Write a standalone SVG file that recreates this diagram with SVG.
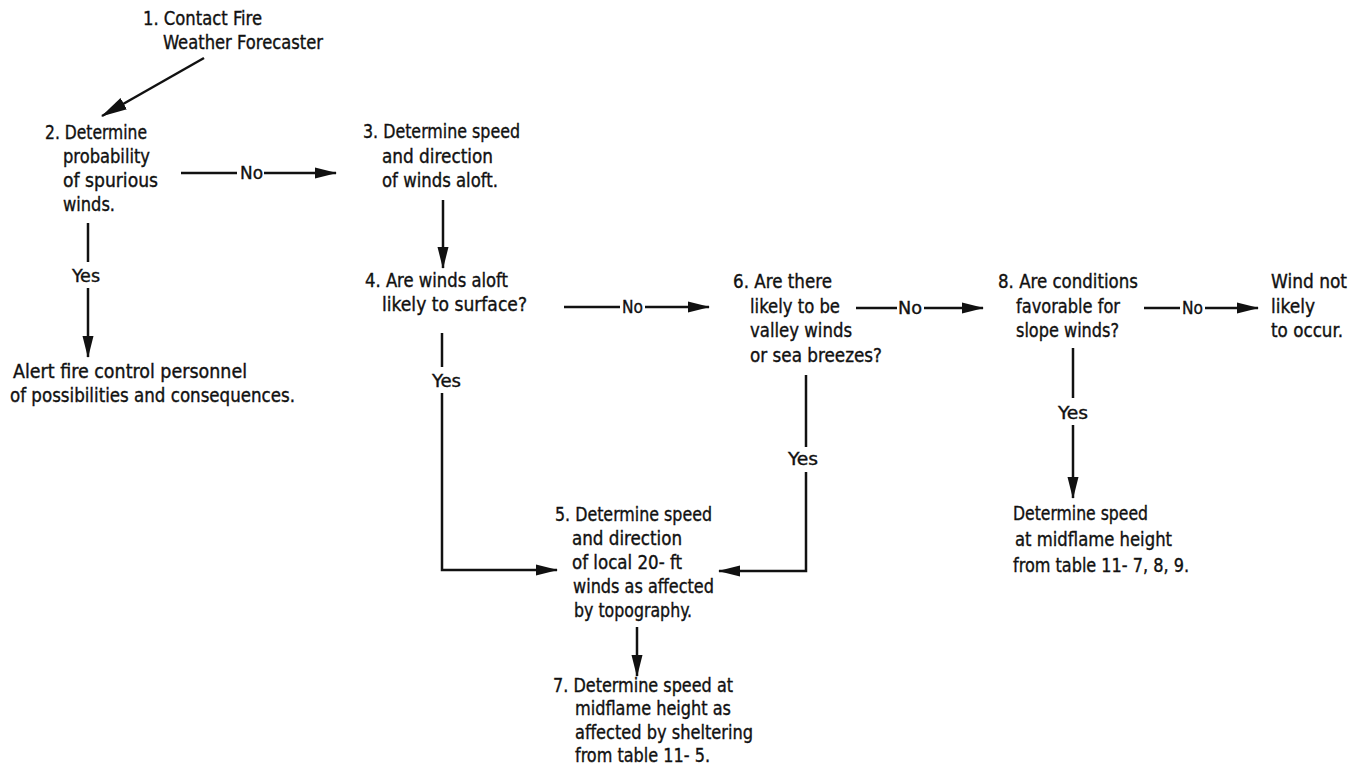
<svg xmlns="http://www.w3.org/2000/svg" width="1361" height="766" viewBox="0 0 1361 766">
<style>
text{font-family:"DejaVu Sans Condensed","DejaVu Sans","Liberation Sans",sans-serif;font-size:19px;fill:#111;stroke:#111;stroke-width:0.35px;}
.lbl{font-size:18px;}
.c{stroke:#111;stroke-width:2.5;fill:none;}
.a{marker-end:url(#ah);}
.big{marker-end:url(#ahb);}
</style>
<defs>
<marker id="ah" markerUnits="userSpaceOnUse" markerWidth="22" markerHeight="12" refX="21" refY="6" orient="auto">
<path d="M0,0.5 L22,6 L0,11.5 z" fill="#111"/>
</marker>
<marker id="ahb" markerUnits="userSpaceOnUse" markerWidth="26" markerHeight="14" refX="25" refY="7" orient="auto">
<path d="M0,0.5 L26,7 L0,13.5 z" fill="#111"/>
</marker>
</defs>
<rect width="1361" height="766" fill="#fff"/>
<g id="connectors">
<line class="c big" x1="204" y1="58" x2="102" y2="116"/>
<line class="c" x1="181" y1="173" x2="237" y2="173"/>
<line class="c a" x1="264" y1="173" x2="336" y2="173"/>
<text class="lbl" x="240" y="179" textLength="23" lengthAdjust="spacingAndGlyphs">No</text>
<line class="c" x1="88" y1="223" x2="88" y2="262"/>
<text class="lbl" x="72" y="282" textLength="28" lengthAdjust="spacingAndGlyphs">Yes</text>
<line class="c a" x1="88" y1="288" x2="88" y2="357"/>
<line class="c a" x1="443" y1="200" x2="443" y2="268"/>
<line class="c" x1="564" y1="307" x2="620" y2="307"/>
<text class="lbl" x="622" y="313" textLength="21" lengthAdjust="spacingAndGlyphs">No</text>
<line class="c a" x1="645" y1="307" x2="709" y2="307"/>
<line class="c" x1="442" y1="333" x2="442" y2="367"/>
<text class="lbl" x="432" y="387" textLength="29" lengthAdjust="spacingAndGlyphs">Yes</text>
<path class="c a" d="M442,393 V570 H557"/>
<line class="c" x1="806" y1="375" x2="806" y2="447"/>
<text class="lbl" x="788" y="465" textLength="30" lengthAdjust="spacingAndGlyphs">Yes</text>
<path class="c a" d="M806,472 V571 H719"/>
<line class="c" x1="856" y1="308" x2="897" y2="308"/>
<text class="lbl" x="898" y="314" textLength="24" lengthAdjust="spacingAndGlyphs">No</text>
<line class="c a" x1="924" y1="308" x2="983" y2="308"/>
<line class="c" x1="1144" y1="308" x2="1180" y2="308"/>
<text class="lbl" x="1182" y="314" textLength="21" lengthAdjust="spacingAndGlyphs">No</text>
<line class="c a" x1="1205" y1="308" x2="1258" y2="308"/>
<line class="c" x1="1073" y1="348" x2="1073" y2="398"/>
<text class="lbl" x="1058" y="419" textLength="30" lengthAdjust="spacingAndGlyphs">Yes</text>
<line class="c a" x1="1073" y1="425" x2="1073" y2="498"/>
<line class="c a" x1="637" y1="627" x2="637" y2="676"/>
</g>
<g id="n1">
<text x="143" y="25" textLength="119" lengthAdjust="spacingAndGlyphs">1. Contact Fire</text>
<text x="163" y="49" textLength="160" lengthAdjust="spacingAndGlyphs">Weather Forecaster</text>
</g>
<g id="n2">
<text x="45" y="139" textLength="102" lengthAdjust="spacingAndGlyphs">2. Determine</text>
<text x="63" y="163" textLength="87" lengthAdjust="spacingAndGlyphs">probability</text>
<text x="63" y="187" textLength="95" lengthAdjust="spacingAndGlyphs">of spurious</text>
<text x="63" y="211" textLength="52" lengthAdjust="spacingAndGlyphs">winds.</text>
</g>
<g id="alert">
<text x="13" y="378" textLength="234" lengthAdjust="spacingAndGlyphs">Alert fire control personnel</text>
<text x="10" y="402" textLength="285" lengthAdjust="spacingAndGlyphs">of possibilities and consequences.</text>
</g>
<g id="n3">
<text x="363" y="138" textLength="157" lengthAdjust="spacingAndGlyphs">3. Determine speed</text>
<text x="382" y="163" textLength="111" lengthAdjust="spacingAndGlyphs">and direction</text>
<text x="382" y="187" textLength="116" lengthAdjust="spacingAndGlyphs">of winds aloft.</text>
</g>
<g id="n4">
<text x="365" y="287" textLength="143" lengthAdjust="spacingAndGlyphs">4. Are winds aloft</text>
<text x="382" y="311" textLength="145" lengthAdjust="spacingAndGlyphs">likely to surface?</text>
</g>
<g id="n6">
<text x="733" y="288" textLength="99" lengthAdjust="spacingAndGlyphs">6. Are there</text>
<text x="750" y="313" textLength="90" lengthAdjust="spacingAndGlyphs">likely to be</text>
<text x="750" y="337" textLength="102" lengthAdjust="spacingAndGlyphs">valley winds</text>
<text x="750" y="362" textLength="132" lengthAdjust="spacingAndGlyphs">or sea breezes?</text>
</g>
<g id="n8">
<text x="998" y="288" textLength="140" lengthAdjust="spacingAndGlyphs">8. Are conditions</text>
<text x="1016" y="313" textLength="104" lengthAdjust="spacingAndGlyphs">favorable for</text>
<text x="1016" y="337" textLength="103" lengthAdjust="spacingAndGlyphs">slope winds?</text>
</g>
<g id="nowind">
<text x="1271" y="288" textLength="76" lengthAdjust="spacingAndGlyphs">Wind not</text>
<text x="1271" y="313" textLength="44" lengthAdjust="spacingAndGlyphs">likely</text>
<text x="1271" y="337" textLength="72" lengthAdjust="spacingAndGlyphs">to occur.</text>
</g>
<g id="slope">
<text x="1013" y="520" textLength="135" lengthAdjust="spacingAndGlyphs">Determine speed</text>
<text x="1015" y="546" textLength="157" lengthAdjust="spacingAndGlyphs">at midflame height</text>
<text x="1013" y="572" textLength="176" lengthAdjust="spacingAndGlyphs">from table 11- 7,  8, 9.</text>
</g>
<g id="n5">
<text x="555" y="521" textLength="157" lengthAdjust="spacingAndGlyphs">5. Determine  speed</text>
<text x="572" y="545" textLength="110" lengthAdjust="spacingAndGlyphs">and direction</text>
<text x="572" y="569" textLength="110" lengthAdjust="spacingAndGlyphs">of local 20- ft</text>
<text x="573" y="593" textLength="141" lengthAdjust="spacingAndGlyphs">winds as affected</text>
<text x="574" y="617" textLength="118" lengthAdjust="spacingAndGlyphs">by topography.</text>
</g>
<g id="n7">
<text x="553" y="692" textLength="180" lengthAdjust="spacingAndGlyphs">7. Determine  speed at</text>
<text x="575" y="715" textLength="156" lengthAdjust="spacingAndGlyphs">midflame height as</text>
<text x="575" y="739" textLength="178" lengthAdjust="spacingAndGlyphs">affected by sheltering</text>
<text x="575" y="762" textLength="135" lengthAdjust="spacingAndGlyphs">from table 11- 5.</text>
</g>
</svg>
